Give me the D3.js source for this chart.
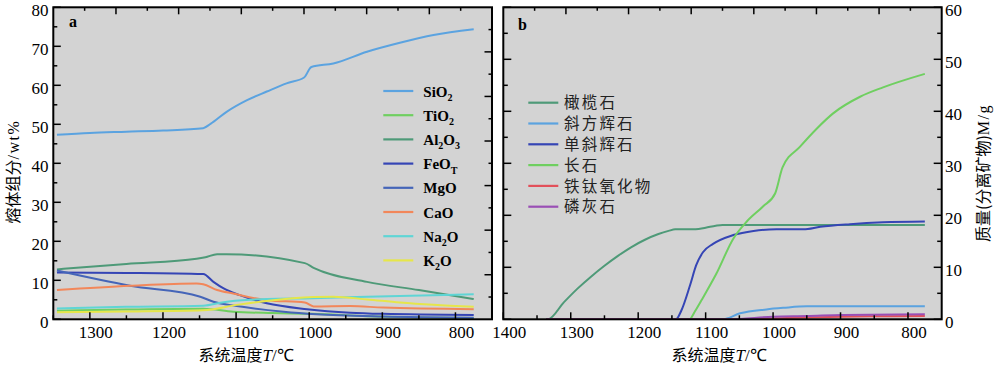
<!DOCTYPE html>
<html><head><meta charset="utf-8">
<script src="https://cdn.jsdelivr.net/npm/d3@7"></script>
<style>body{margin:0;background:#fff}svg{display:block}</style>
</head><body>
<script>
// ---------- DATA ----------
// Panel a: melt composition (wt%) vs system temperature (°C)
const oxideNames = ["SiO_2","TiO_2","Al_2O_3","FeO_T","MgO","CaO","Na_2O","K_2O"];
const oxideColors = ["#5ba3e0","#6fcf60","#4e9a78","#3545b5","#4565b8","#f2875a","#5fd5d5","#e6e64a"];
const sio2 = [[1345,47.3],[1300,47.8],[1250,48.1],[1200,48.4],[1145,49.0],[1135,50.1],[1113,53.2],[1085,56.2],[1058,58.4],[1031,60.5],[1007,62.0],[997,64.7],[967,65.6],[921,68.6],[876,70.9],[830,72.9],[775,74.4]];
const tio2 = [[1345,2.2],[1250,2.5],[1145,2.7],[1104,1.95],[1050,1.6],[996,1.4],[921,0.8],[850,0.45],[775,0.3]];
const al2o3 = [[1345,12.8],[1250,14.2],[1154,15.5],[1142,15.9],[1126,16.7],[1113,16.7],[1006,14.4],[994,13.2],[921,9.6],[850,7.5],[775,5.2]];
const feot = [[1345,12.0],[1250,11.9],[1145,11.6],[1131,9.6],[1117,7.9],[1095,6.2],[1058,4.1],[1003,2.6],[944,1.7],[899,1.4],[775,1.1]];
const mgo = [[1345,12.5],[1245,8.6],[1149,5.8],[1131,4.5],[1099,3.4],[1035,1.95],[990,1.3],[899,0.7],[775,0.4]];
const cao = [[1345,7.5],[1245,8.6],[1154,9.2],[1145,9.0],[1126,7.5],[1104,6.6],[1058,4.9],[1006,4.3],[994,3.3],[944,3.4],[899,3.0],[775,2.6]];
const na2o = [[1345,2.8],[1250,3.2],[1145,3.5],[1117,4.4],[1081,5.0],[1058,5.2],[996,5.4],[921,5.8],[775,6.4]];
const k2o = [[1345,1.8],[1250,2.0],[1145,2.3],[1099,3.7],[1058,4.7],[994,5.7],[967,5.8],[921,5.1],[876,4.3],[830,3.7],[775,3.2]];
const oxideSeries = [sio2,tio2,al2o3,feot,mgo,cao,na2o,k2o];

// Panel b: mass of separated minerals (g) vs system temperature (°C)
const mineralNames = ["橄榄石","斜方辉石","单斜辉石","长石","铁钛氧化物","磷灰石"];
const mineralColors = ["#4e9a78","#5ba3e0","#3545b5","#6fcf60","#e2505a","#9a4fb5"];
const olivine = [[1336,0],[1334,0],[1310,3.3],[1290,5.9],[1270,8.2],[1250,10.3],[1230,12.2],[1210,13.9],[1190,15.3],[1170,16.4],[1155,17.0],[1145,17.3],[1115,17.3],[1100,17.6],[1085,18.0],[1075,18.15],[775,18.15]];
const opx = [[1336,0],[1075,0],[1049,1.15],[1010,1.9],[985,2.2],[950,2.5],[775,2.5]];
const cpx = [[1336,0],[1144,0],[1136,1.7],[1123,6.6],[1114,10.4],[1104,12.9],[1089,14.5],[1059,16.2],[1029,17.0],[995,17.3],[955,17.3],[930,17.8],[886,18.3],[837,18.65],[775,18.8]];
const feldspar = [[1336,0],[1124,0],[1116,1.5],[1106,3.7],[1084,8.8],[1059,15.5],[1039,18.8],[1015,21.7],[997,24.2],[986,29.2],[960,33.2],[935,36.7],[911,39.6],[871,42.8],[837,44.6],[775,47.2]];
const fetiOxide = [[1336,0],[1040,0],[1000,0.15],[950,0.35],[900,0.5],[850,0.58],[775,0.65]];
const apatite = [[1336,0],[1065,0],[1000,0.5],[950,0.63],[896,0.83],[775,0.95]];
const mineralSeries = [olivine,opx,cpx,feldspar,fetiOxide,apatite];

const xTicksA = [1300,1200,1100,1000,900,800];
const xMinorA = [1350,1250,1150,1050,950,850];
const yTicksA = [0,10,20,30,40,50,60,70,80];
const xTicksB = [1400,1300,1200,1100,1000,900,800];
const xMinorB = [1350,1250,1150,1050,950,850];
const yTicksB = [0,10,20,30,40,50,60];

// ---------- RENDER ----------
const W=1000,H=368;
const SERIF="'Liberation Serif','Times New Roman',serif";
const CJK="'Noto Sans CJK SC','Noto Sans CJK JP',sans-serif";
const svg=d3.select("body").append("svg").attr("width",W).attr("height",H);

const top0=7.3, bot0=319.3;
const pA={x0:53.3,x1:492,xd:[1350,750],yd:[0,80]};
const pB={x0:503.3,x1:941.7,xd:[1400,750],yd:[0,60]};

function setupPanel(p){
  p.x=d3.scaleLinear().domain(p.xd).range([p.x0,p.x1]);
  p.y=d3.scaleLinear().domain(p.yd).range([bot0,top0]);
  p.g=svg.append("g");
  p.g.append("rect").attr("x",p.x0).attr("y",top0).attr("width",p.x1-p.x0).attr("height",bot0-top0).attr("fill","#d3d3d3");
  p.clip="clip"+Math.round(p.x0);
  svg.append("clipPath").attr("id",p.clip).append("rect").attr("x",p.x0).attr("y",top0).attr("width",p.x1-p.x0).attr("height",bot0-top0);
}
setupPanel(pA); setupPanel(pB);

function line(g,x1,y1,x2,y2,w){g.append("line").attr("x1",x1).attr("y1",y1).attr("x2",x2).attr("y2",y2).attr("stroke","#000").attr("stroke-width",w||1.5);}

function drawSeries(p,series,colors){
  const gen=d3.line().x(d=>p.x(d[0])).y(d=>p.y(d[1])).curve(d3.curveMonotoneX);
  const lg=p.g.append("g").attr("clip-path",`url(#${p.clip})`);
  series.forEach((s,i)=>{
    lg.append("path").attr("d",gen(s)).attr("fill","none").attr("stroke",colors[i]).attr("stroke-width",2).attr("stroke-linejoin","round");
  });
}
drawSeries(pA,oxideSeries,oxideColors);
drawSeries(pB,mineralSeries,mineralColors);

function frameTicks(p,leftTicks,rightTicks){
  const g=p.g;
  p.xMajor.forEach(t=>line(g,p.x(t),bot0,p.x(t),bot0-7));
  p.xMinor.forEach(t=>line(g,p.x(t),bot0,p.x(t),bot0-4));
  const tq=d3.scaleLinear().domain([0,14]).range([p.x0,p.x1]);
  d3.range(1,14).forEach(k=>line(g,tq(k),top0,tq(k),top0+(k%2===0?7:3.5)));
  leftTicks(g); rightTicks(g);
  g.append("rect").attr("x",p.x0).attr("y",top0).attr("width",p.x1-p.x0).attr("height",bot0-top0).attr("fill","none").attr("stroke","#000").attr("stroke-width",2);
}
pA.xMajor=xTicksA; pA.xMinor=xMinorA;
pB.xMajor=xTicksB; pB.xMinor=xMinorB;

const rq=d3.scaleLinear().domain([0,14]).range([bot0,top0]);
frameTicks(pA,
  g=>{d3.range(0,81,5).forEach(v=>line(g,pA.x0,pA.y(v),pA.x0+(v%10===0?7.5:4),pA.y(v)));},
  g=>{d3.range(1,14).forEach(k=>line(g,pA.x1,rq(k),pA.x1-(k%2===0?7.5:3.5),rq(k)));}
);
frameTicks(pB,
  g=>{d3.range(0,61,5).forEach(v=>line(g,pB.x0,pB.y(v),pB.x0+(v%10===0?8:4.5),pB.y(v)));},
  g=>{d3.range(0,61,5).forEach(v=>line(g,pB.x1,pB.y(v),pB.x1-(v%10===0?8:4.5),pB.y(v)));}
);

function xLabels(p){
  p.xMajor.forEach(t=>svg.append("text").attr("x",p.x(t)+6).attr("y",337.5).attr("text-anchor","middle")
    .attr("font-family",SERIF).attr("font-size",17).text(t));
}
xLabels(pA); xLabels(pB);
yTicksA.forEach(v=>svg.append("text").attr("x",48.5).attr("y",pA.y(v)+8.5).attr("text-anchor","end")
  .attr("font-family",SERIF).attr("font-size",17).text(v));
yTicksB.forEach(v=>svg.append("text").attr("x",945).attr("y",pB.y(v)+9).attr("text-anchor","start")
  .attr("font-family",SERIF).attr("font-size",17).text(v));

svg.append("text").attr("x",69).attr("y",27).attr("font-family",SERIF).attr("font-weight","bold").attr("font-size",16).text("a");
svg.append("text").attr("x",518).attr("y",30).attr("font-family",SERIF).attr("font-weight","bold").attr("font-size",16).text("b");

function xTitle(cx){
  const t=svg.append("text").attr("x",cx).attr("y",361).attr("text-anchor","middle").attr("font-size",16);
  t.append("tspan").attr("font-family",CJK).text("系统温度");
  t.append("tspan").attr("font-family",SERIF).attr("font-style","italic").attr("font-size",17).text("T");
  t.append("tspan").attr("font-family",SERIF).attr("font-size",17).text("/℃");
}
xTitle(246); xTitle(719);

const yl=svg.append("text").attr("transform","translate(19,171.5) rotate(-90)").attr("text-anchor","middle").attr("font-size",16);
yl.append("tspan").attr("font-family",CJK).text("熔体组分");
yl.append("tspan").attr("font-family",SERIF).attr("font-size",16).attr("letter-spacing",1.5).text("/wt%");

const yr=svg.append("text").attr("transform","translate(989,173) rotate(-90)").attr("text-anchor","middle").attr("font-size",16);
yr.append("tspan").attr("font-family",CJK).text("质量(分离矿物)");
yr.append("tspan").attr("font-family",SERIF).attr("font-size",16).attr("letter-spacing",1.5).text("M/g");

oxideNames.forEach((n,i)=>{
  const y=91+i*24.2;
  svg.append("line").attr("x1",383.3).attr("x2",413.3).attr("y1",y).attr("y2",y).attr("stroke",oxideColors[i]).attr("stroke-width",2.2);
  const t=svg.append("text").attr("x",423.3).attr("y",y+5.5).attr("font-family",SERIF).attr("font-weight","bold").attr("font-size",15);
  const parts=n.split(/_(.)/);
  parts.forEach((s,j)=>{
    if(!s) return;
    if(j%2===1){ t.append("tspan").attr("font-size",10).attr("dy",4.5).text(s); }
    else { const ts=t.append("tspan").text(s); if(j>0) ts.attr("dy",-4.5); }
  });
});

mineralNames.forEach((n,i)=>{
  const y=102.7+i*20.8;
  svg.append("line").attr("x1",528.3).attr("x2",558.3).attr("y1",y).attr("y2",y).attr("stroke",mineralColors[i]).attr("stroke-width",2.2);
  svg.append("text").attr("x",564).attr("y",y+5.6).attr("font-family",CJK).attr("font-size",15.5).attr("letter-spacing",2.2).attr("fill","#222").text(n);
});
</script>
</body></html>
